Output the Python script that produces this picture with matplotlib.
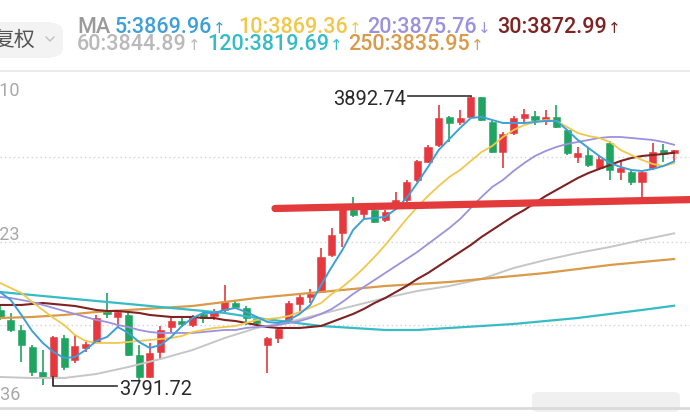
import matplotlib
matplotlib.use("Agg")
import matplotlib.pyplot as plt
import numpy as np
from matplotlib.patches import FancyBboxPatch, Rectangle
from matplotlib.lines import Line2D

W, H = 690, 420

# ---------------- data ----------------
opens = [3818.21, 3814.72, 3811.24, 3805.32, 3796.61, 3794.87, 3808.45, 3800.79, 3804.97, 3807.06,
         3817.86, 3815.77, 3816.46, 3802.53, 3794.87, 3803.57, 3812.28, 3814.37, 3812.98, 3816.81,
         3816.12, 3818.21, 3820.64, 3818.90, 3815.07, 3806.01, 3808.45, 3814.37, 3820.30, 3822.73,
         3824.47, 3837.36, 3845.02, 3853.03, 3851.64, 3853.03, 3849.55, 3853.73, 3856.52, 3863.48,
         3869.75, 3875.67, 3885.43, 3883.68, 3885.43, 3892.39, 3883.68, 3873.24, 3879.85, 3885.08,
         3885.77, 3884.03, 3885.43, 3880.90, 3871.49, 3872.19, 3867.66, 3876.37, 3866.27, 3866.27,
         3862.79, 3867.66, 3873.93, 3872.89]
highs = [3819.60, 3817.16, 3812.98, 3806.01, 3804.27, 3809.15, 3809.50, 3809.50, 3807.76, 3816.46,
         3824.13, 3818.21, 3817.16, 3806.01, 3806.71, 3812.63, 3815.77, 3816.12, 3816.46, 3818.21,
         3818.55, 3826.91, 3821.34, 3819.60, 3816.12, 3808.80, 3812.28, 3821.34, 3823.43, 3825.52,
         3839.80, 3846.76, 3854.78, 3857.56, 3854.78, 3855.47, 3853.03, 3859.30, 3863.48, 3870.45,
         3875.67, 3889.61, 3885.77, 3887.86, 3892.74, 3892.50, 3884.38, 3880.20, 3885.77, 3888.21,
         3887.52, 3887.86, 3889.61, 3881.25, 3874.98, 3874.63, 3872.19, 3877.07, 3870.45, 3866.97,
         3866.62, 3876.37, 3876.02, 3874.10]
lows = [3814.72, 3810.54, 3800.09, 3795.22, 3792.08, 3791.72, 3797.31, 3799.74, 3803.57, 3806.71,
        3815.42, 3812.28, 3802.18, 3793.82, 3794.52, 3800.79, 3810.19, 3812.28, 3812.28, 3813.68,
        3814.72, 3817.51, 3818.55, 3812.98, 3812.63, 3796.26, 3806.71, 3813.68, 3817.16, 3820.64,
        3824.13, 3836.66, 3840.15, 3850.60, 3849.55, 3848.51, 3848.85, 3853.03, 3855.82, 3862.79,
        3869.40, 3874.98, 3876.72, 3882.64, 3885.08, 3884.03, 3872.89, 3867.66, 3879.16, 3883.68,
        3882.64, 3882.64, 3881.59, 3872.19, 3869.40, 3868.01, 3866.97, 3863.48, 3863.48, 3861.74,
        3857.21, 3866.97, 3869.75, 3869.75]
closes = [3815.42, 3811.24, 3806.01, 3796.61, 3794.87, 3808.80, 3798.35, 3805.67, 3806.36, 3815.42,
          3816.81, 3817.51, 3802.53, 3794.87, 3803.23, 3811.24, 3814.37, 3813.33, 3815.77, 3815.42,
          3817.51, 3820.99, 3819.25, 3815.42, 3813.68, 3808.45, 3811.59, 3820.64, 3822.73, 3823.78,
          3836.66, 3844.33, 3853.73, 3851.29, 3853.73, 3848.85, 3852.34, 3856.52, 3862.79, 3870.10,
          3874.98, 3885.08, 3883.34, 3885.08, 3892.39, 3884.38, 3873.24, 3879.50, 3885.08, 3886.47,
          3884.38, 3885.43, 3881.94, 3872.89, 3872.89, 3868.71, 3870.80, 3866.97, 3867.66, 3862.79,
          3866.27, 3873.24, 3872.54, 3873.93]

ma5 = [3824.47, 3821.69, 3816.47, 3810.89, 3806.72, 3803.57, 3801.48, 3801.83, 3804.27, 3807.41,
       3808.80, 3812.28, 3810.20, 3807.06, 3804.97, 3806.02, 3808.80, 3812.63, 3815.42, 3817.17,
       3817.17, 3818.21, 3818.91, 3817.51, 3815.77, 3814.02, 3813.68, 3814.72, 3816.82, 3819.95,
       3826.92, 3833.18, 3839.10, 3846.07, 3849.90, 3850.25, 3850.60, 3853.39, 3857.22, 3862.44,
       3868.01, 3873.93, 3877.77, 3881.60, 3885.08, 3885.43, 3884.38, 3883.34, 3883.34, 3883.34,
       3883.69, 3884.03, 3884.03, 3880.90, 3877.42, 3874.63, 3871.84, 3869.40, 3868.01, 3866.97,
       3866.62, 3867.32, 3868.36, 3869.96]
ma10 = [3827.62, 3825.87, 3824.13, 3821.00, 3818.21, 3815.42, 3812.98, 3809.50, 3807.41, 3806.72,
        3806.72, 3806.72, 3807.06, 3807.41, 3807.76, 3808.11, 3808.46, 3809.15, 3810.54, 3811.24,
        3811.94, 3812.28, 3812.63, 3813.68, 3814.72, 3815.07, 3815.42, 3816.12, 3817.51, 3819.00,
        3820.60, 3823.78, 3826.21, 3829.35, 3832.83, 3836.67, 3840.84, 3845.37, 3849.90, 3854.08,
        3857.91, 3861.39, 3864.53, 3866.97, 3870.10, 3873.24, 3875.33, 3878.46, 3880.90, 3882.64,
        3883.69, 3884.38, 3884.03, 3881.94, 3879.85, 3878.81, 3878.11, 3876.72, 3873.93, 3872.19,
        3870.45, 3869.06, 3868.36, 3869.36]
ma20 = [3822.73, 3822.38, 3821.69, 3820.99, 3819.95, 3818.90, 3817.86, 3816.82, 3815.77, 3814.72,
        3814.02, 3812.98, 3812.28, 3811.24, 3810.54, 3810.20, 3810.20, 3810.20, 3810.20, 3810.54,
        3810.89, 3811.24, 3811.24, 3811.94, 3812.28, 3812.63, 3812.98, 3813.68, 3814.37, 3815.42,
        3816.82, 3818.56, 3820.99, 3823.78, 3826.21, 3828.66, 3831.09, 3833.53, 3835.97, 3838.41,
        3841.20, 3843.98, 3846.77, 3849.90, 3853.73, 3857.56, 3861.04, 3863.49, 3866.62, 3869.40,
        3871.84, 3873.58, 3874.98, 3876.02, 3876.72, 3877.42, 3878.11, 3878.46, 3878.46, 3878.11,
        3877.77, 3877.42, 3876.72, 3875.76]
ma30 = [3819.95, 3819.95, 3819.95, 3820.30, 3820.64, 3820.30, 3819.95, 3819.60, 3818.90, 3818.21,
        3817.86, 3817.86, 3817.51, 3817.17, 3816.47, 3816.12, 3815.77, 3815.77, 3815.77, 3815.42,
        3815.42, 3814.72, 3814.37, 3813.68, 3812.98, 3812.28, 3811.94, 3811.94, 3811.94, 3812.28,
        3812.63, 3814.02, 3815.42, 3816.82, 3818.56, 3820.64, 3822.38, 3824.47, 3826.56, 3829.00,
        3831.09, 3833.53, 3835.97, 3838.41, 3840.84, 3843.63, 3846.07, 3848.51, 3850.95, 3853.04,
        3855.47, 3857.91, 3860.00, 3862.09, 3864.18, 3865.92, 3867.32, 3868.71, 3870.10, 3871.15,
        3871.84, 3872.19, 3872.54, 3872.99]
slow_idx = list(range(0, 64, 3))
ma60 = [3794.87, 3794.52, 3794.52, 3795.91, 3798.35, 3801.14, 3804.27, 3808.45, 3811.94, 3814.02,
        3816.82, 3819.60, 3822.38, 3824.82, 3826.56, 3829.00, 3832.83, 3835.62, 3838.06, 3840.15,
        3842.59, 3844.89]
ma120 = [3824.47, 3823.43, 3822.38, 3821.34, 3820.30, 3819.25, 3818.21, 3817.17, 3815.42, 3814.02,
         3812.63, 3811.94, 3811.24, 3811.24, 3811.94, 3812.63, 3813.33, 3814.37, 3815.42, 3816.82,
         3818.21, 3819.69]
ma250 = [3815.42, 3815.77, 3816.47, 3817.51, 3818.21, 3818.90, 3819.60, 3820.99, 3822.38, 3823.43,
         3824.47, 3825.52, 3826.56, 3827.26, 3827.96, 3829.00, 3830.04, 3831.09, 3832.48, 3833.88,
         3834.92, 3835.95]

ma_names = ["5", "10", "20", "30", "60", "120", "250"]
ma_last = [3869.96, 3869.36, 3875.76, 3872.99, 3844.89, 3819.69, 3835.95]
ma_trend = ["↑", "↑", "↓", "↑", "↑", "↑", "↑"]
axis_labels = ["3898.10", "3840.23", "3782.36"]
grid_levels = [3871.49, 3841.89, 3812.98]

# ---------------- styles ----------------
RED = "#e5393f"
GREEN = "#1fa461"
C5, C10, C20, C30 = "#3f9fd8", "#f1c84c", "#9d91de", "#7e2222"
C60, C120, C250 = "#c6c6c6", "#35bcc4", "#d99a4a"
ma_colors = [C5, C10, C20, C30, C60, C120, C250]
FAM = ["Roboto", "DejaVu Sans"]

fig = plt.figure(figsize=(W / 100, H / 100), dpi=100)
fig.patch.set_facecolor("white")

def F(x, y):
    return x / W, 1 - y / H

# main axes: pixel rows 75..410
ax = fig.add_axes([0, 1 - 410 / H, 1, (410 - 75) / H])
ax.set_xlim(0, W / 10.7)
ax.set_ylim(3783.37, 3900.05)
ax.axis("off")

for g in grid_levels:
    ax.axhline(g, color="#d2d2d2", lw=1.0, ls=(0, (1.0, 2.2)), zorder=1)

n = len(opens)
for i in range(n):
    o, h, l, c = opens[i], highs[i], lows[i], closes[i]
    col = RED if c >= o else GREEN
    ax.vlines(i, l, h, color=col, lw=1.2, zorder=2)
    bot = min(o, c)
    ht = max(abs(c - o), 0.6)
    ax.add_patch(Rectangle((i - 0.33, bot), 0.66, ht, facecolor=col,
                           edgecolor=col, lw=0.4, zorder=3))

full_idx = np.arange(n)
ax.plot(slow_idx, ma60, color=C60, lw=1.4, zorder=4)
ax.plot(slow_idx, ma250, color=C250, lw=1.6, zorder=4)
ax.plot(slow_idx, ma120, color=C120, lw=1.6, zorder=4)
ax.plot(full_idx, ma30, color=C30, lw=1.5, zorder=4)
ax.plot(full_idx, ma20, color=C20, lw=1.3, zorder=4)
ax.plot(full_idx, ma10, color=C10, lw=1.3, zorder=4)
ax.plot(full_idx, ma5, color=C5, lw=1.4, zorder=5)

# high / low markers
hi_i = int(np.argmax(highs))
lo_i = int(np.argmin(lows))
hi_v, lo_v = highs[hi_i], lows[lo_i]
ax.plot([hi_i - 5.9, hi_i], [hi_v, hi_v], color="#333333", lw=1.2, zorder=6)
ax.text(hi_i - 6.05, hi_v - 1.1, f"{hi_v:.2f}", ha="right", va="center",
        fontsize=14.5, color="#2a2a2a", family=FAM, zorder=7)
ax.plot([lo_i, lo_i, lo_i + 5.9], [opens[lo_i], lo_v, lo_v], color="#333333", lw=1.2, zorder=6)
ax.text(lo_i + 6.1, lo_v - 1.3, f"{lo_v:.2f}", ha="left", va="center",
        fontsize=14.5, color="#2a2a2a", family=FAM, zorder=7)

# hand-drawn red support line
fig.add_artist(Line2D([F(275, 208.5)[0], F(695, 199.5)[0]], [F(275, 208.5)[1], F(695, 199.5)[1]],
                      color="#e33a3c", lw=5.2, solid_capstyle="round", zorder=10))

# axis labels (cut at the left edge)
for lab, yy in zip(axis_labels, [91, 235, 395]):
    fig.text(*F(20, yy), lab, ha="right", va="center", fontsize=13, color="#a8a8a8", family=FAM)

# separators
fig.add_artist(Line2D([0, 1], [F(0, 71)[1]] * 2, color="#e8e8e8", lw=1.2))
fig.add_artist(Line2D([0, 1], [F(0, 408)[1]] * 2, color="#dadada", lw=2.0))
fig.add_artist(FancyBboxPatch(F(532, 412), 148 / W, 20 / H, boxstyle="round,pad=0,rounding_size=0.01",
                              facecolor="#ebebeb", edgecolor="none", alpha=0.7))

# top-left pill with 复权 (cut at the left edge)
fig.add_artist(FancyBboxPatch(F(-30, 58), 93 / W, 36 / H, boxstyle="round,pad=0,rounding_size=0.025",
                              facecolor="#f3f3f3", edgecolor="none"))
fig.text(*F(35, 40), "复权", ha="right", va="center", fontsize=15, color="#555555",
         family=["Noto Sans CJK SC", "DejaVu Sans"])
fig.add_artist(Line2D([F(46, 37)[0], F(50, 41)[0], F(54, 37)[0]],
                      [F(46, 37)[1], F(50, 41)[1], F(54, 37)[1]], color="#c0c0c0", lw=1.0))

# MA legend (baselines at pixel rows 33 and 50)
fig.text(*F(77, 33), "MA", ha="left", va="baseline", fontsize=15.5, color="#9a9a9a",
         family=FAM, fontweight="medium")
legend_pos = [(115, 33), (238, 33), (367, 33), (497, 33), (77, 50), (207, 50), (348, 50)]
fig.canvas.draw()
r = fig.canvas.get_renderer()
for name, val, tr, col, (lx, ly) in zip(ma_names, ma_last, ma_trend, ma_colors, legend_pos):
    lc = "#b9b9b9" if name == "60" else col
    t = fig.text(*F(lx, ly), f"{name}:{val:.2f}", ha="left", va="baseline",
                 fontsize=15.5, color=lc, family=FAM, fontweight="medium")
    bb = t.get_window_extent(renderer=r)
    fig.text((bb.x1 + 1) / W, F(0, ly)[1], tr, ha="left", va="baseline",
             fontsize=11, color=lc, family=["DejaVu Sans"])

fig.savefig("out.png", dpi=100, facecolor="white")
